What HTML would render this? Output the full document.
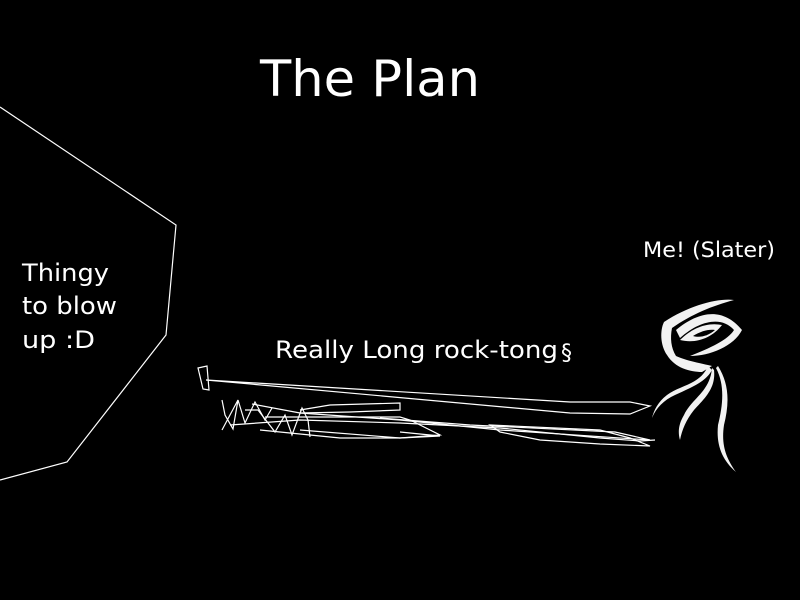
<!DOCTYPE html>
<html><head><meta charset="utf-8"><style>
html,body{margin:0;padding:0;background:#000;}
svg{display:block}
text{font-family:"DejaVu Sans","Liberation Sans",sans-serif;fill:#fff}
</style></head><body>
<svg width="800" height="600" viewBox="0 0 800 600" xmlns="http://www.w3.org/2000/svg">
<rect width="800" height="600" fill="#000"/>
<text x="260" y="96" font-size="50" textLength="220" lengthAdjust="spacingAndGlyphs">The Plan</text>
<polyline points="0,107 176,225 166,335 67,462 0,480" fill="none" stroke="#fff" stroke-width="1.2"/>
<text x="22" y="281" font-size="24" textLength="87" lengthAdjust="spacingAndGlyphs">Thingy</text>
<text x="22" y="314" font-size="24" textLength="95" lengthAdjust="spacingAndGlyphs">to blow</text>
<text x="22" y="348" font-size="24" textLength="73" lengthAdjust="spacingAndGlyphs">up :D</text>
<text x="275" y="358" font-size="24" textLength="283" lengthAdjust="spacingAndGlyphs">Really Long rock-tong</text>
<text x="561" y="360" font-size="22">§</text>
<text x="643" y="257" font-size="21" textLength="132" lengthAdjust="spacingAndGlyphs">Me! (Slater)</text>
<g fill="none" stroke="#fff" stroke-width="1.2">
<path d="M198,368 L207,366 L209,390 L203,389 Z"/>
<path d="M206,380 L570,402 L630,402 L650,406 L630,414 L570,413 L206,380"/>
<path d="M222,400 L225,415 L233,429 L238,400 L245,423 L255,402 L265,420 L272,408"/>
<path d="M222,430 L238,400 M245,410 L258,410 L275,432 L285,415 L292,435 L302,408 L308,420 L310,437"/>
<path d="M252,404 L300,413 L400,420 L500,430 L650,440 L615,432 L470,425 L380,418"/>
<path d="M300,410 L330,405 L400,403 L400,410 L350,412 L300,413"/>
<path d="M265,417 L400,417 L410,420 L440,435 L400,438 L300,430"/>
<path d="M260,430 L340,438 L400,438 L440,436 L400,432"/>
<path d="M490,425 L600,430 L630,438 L650,446 L600,444 L540,440 L500,432 Z"/>
<path d="M230,425 L300,420 L400,423 L500,428 L600,438 L640,441 L655,440"/>
</g>
<g fill="#f2f2f2">
<path d="M667,355 C660,345 660,330 664,322 C690,305 718,298 734,300 C712,306 692,314 672,328 C670,338 671,348 676,356 C690,362 705,364 712,366 L702,372 C690,372 675,368 667,355 Z"/>
<path d="M676,330 C698,312 722,306 742,330 C734,346 710,356 690,356 C710,348 728,340 734,330 C722,316 700,320 680,338 Z"/>
<path d="M680,340 C692,328 707,322 722,325 C712,338 696,344 680,340 Z"/>
<path d="M708,366 C700,385 680,385 667,395 C658,402 654,410 652,418 C656,408 664,400 675,395 C690,388 706,382 712,370 Z"/>
<path d="M712,368 C710,392 692,398 684,415 C678,425 678,433 680,440 C682,430 686,420 694,410 C705,398 716,388 714,370 Z"/>
<path d="M716,368 C725,385 723,405 718,425 C716,445 722,460 736,472 C726,458 721,445 724,425 C729,405 730,385 718,366 Z"/>
</g>
<path d="M693,336 C701,331 709,329 715,330 C708,336 700,338 693,336 Z" fill="#000"/>
</svg>
</body></html>
